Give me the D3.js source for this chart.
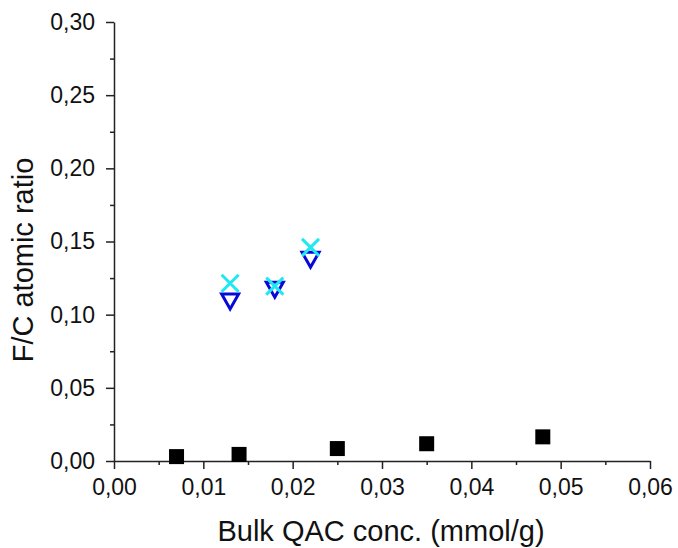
<!DOCTYPE html>
<html>
<head>
<meta charset="utf-8">
<script src="https://cdn.jsdelivr.net/npm/d3@7/dist/d3.min.js"></script>
<style>
  html, body { margin: 0; padding: 0; background: #fff; }
  svg { display: block; font-family: Arial, "Liberation Sans", sans-serif; }
</style>
</head>
<body>
<svg id="chart" width="678" height="548"></svg>
<script>
// Bulk QAC concentration (mmol/g) vs surface F/C atomic ratio
const squareX = [0.007, 0.014, 0.025, 0.035, 0.048];
const squareY = [0.003, 0.0045, 0.0085, 0.0118, 0.0165];

const triangleX = [0.013, 0.018, 0.022];
const triangleY = [0.109, 0.117, 0.1375];

const crossX = [0.013, 0.018, 0.022];
const crossY = [0.1215, 0.1195, 0.146];

const xTicks = [0, 0.01, 0.02, 0.03, 0.04, 0.05, 0.06];
const yTicks = [0, 0.05, 0.10, 0.15, 0.20, 0.25, 0.30];
const xMinor = [0.005, 0.015, 0.025, 0.035, 0.045, 0.055];
const yMinor = [0.025, 0.075, 0.125, 0.175, 0.225, 0.275];

const svg = d3.select("#chart");
const x = d3.scaleLinear().domain([0, 0.06]).range([114, 650]);
const y = d3.scaleLinear().domain([0, 0.30]).range([461, 22]);

const fmt = v => d3.format(".2f")(v).replace(".", ",");
const axisColor = "#222";
const fontFam = "Arial, 'Liberation Sans', sans-serif";

// minor ticks
const gx = svg.append("g").attr("transform", `translate(0,${y(0)})`);
gx.call(d3.axisBottom(x).tickValues(xMinor).tickSize(4).tickFormat(""));
const gy = svg.append("g").attr("transform", `translate(${x(0)},0)`);
gy.call(d3.axisLeft(y).tickValues(yMinor).tickSize(4).tickFormat(""));
[gx, gy].forEach(g => { g.select(".domain").remove(); g.selectAll("line").attr("stroke", axisColor).attr("stroke-width", 1.5); });

// major axes
const ax = svg.append("g").attr("transform", `translate(0,${y(0)})`)
  .call(d3.axisBottom(x).tickValues(xTicks).tickSize(8).tickSizeOuter(0).tickPadding(10).tickFormat(fmt));
const ay = svg.append("g").attr("transform", `translate(${x(0)},0)`)
  .call(d3.axisLeft(y).tickValues(yTicks).tickSize(8).tickSizeOuter(0).tickPadding(11).tickFormat(fmt));
[ax, ay].forEach(g => {
  g.select(".domain").attr("stroke", axisColor).attr("stroke-width", 1.5);
  g.selectAll("line").attr("stroke", axisColor).attr("stroke-width", 1.5);
  g.selectAll("text").attr("font-size", 23).attr("fill", "#111").attr("font-family", fontFam);
});

// axis titles
svg.append("text").attr("x", 381).attr("y", 541).attr("text-anchor", "middle")
  .attr("font-family", fontFam).attr("font-size", 29).attr("fill", "#111").text("Bulk QAC conc. (mmol/g)");
svg.append("text").attr("transform", `translate(33,260) rotate(-90)`)
  .attr("text-anchor", "middle").attr("font-family", fontFam).attr("font-size", 29).attr("fill", "#111").text("F/C atomic ratio");

// black squares
svg.append("g").selectAll("rect").data(squareX).join("rect")
  .attr("x", (d, i) => x(d) - 7.5).attr("y", (d, i) => y(squareY[i]) - 7.5)
  .attr("width", 15).attr("height", 15).attr("fill", "#000");

// open inverted triangles
const tw = 17, th = 15;
svg.append("g").selectAll("path").data(triangleX).join("path")
  .attr("transform", (d, i) => `translate(${x(d)},${y(triangleY[i])})`)
  .attr("d", `M${-tw / 2},${-th / 2}L${tw / 2},${-th / 2}L0,${th / 2}Z`)
  .attr("fill", "none").attr("stroke", "#0808d8").attr("stroke-width", 3).attr("stroke-linejoin", "miter");

// crosses
const cs = 8.5;
svg.append("g").selectAll("path").data(crossX).join("path")
  .attr("transform", (d, i) => `translate(${x(d)},${y(crossY[i])})`)
  .attr("d", `M${-cs},${-cs}L${cs},${cs}M${-cs},${cs}L${cs},${-cs}`)
  .attr("fill", "none").attr("stroke", "#1fe8f0").attr("stroke-width", 3);
</script>
</body>
</html>
